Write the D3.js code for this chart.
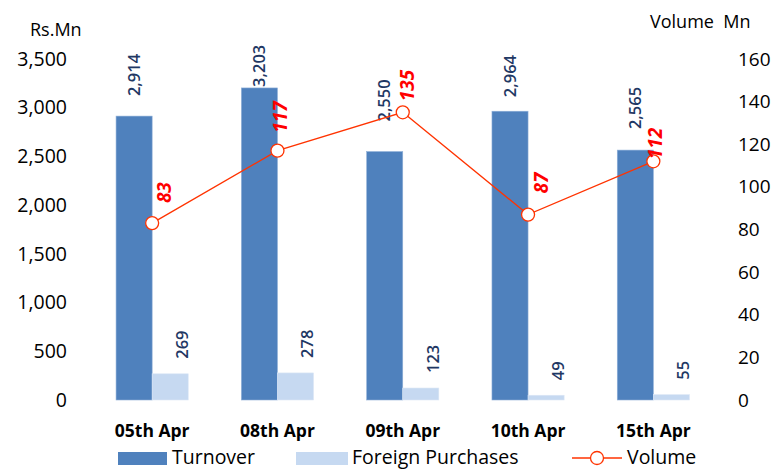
<!DOCTYPE html>
<html>
<head>
<meta charset="utf-8">
<script src="https://cdn.jsdelivr.net/npm/d3@7"></script>
<style>
  body { margin: 0; background: #fff; }
  text { font-family: "Open Sans", Lato, sans-serif; }
</style>
</head>
<body>
<svg id="chart"></svg>
<script>
// data
const dates = ["05th Apr", "08th Apr", "09th Apr", "10th Apr", "15th Apr"];
const turnover = [2914, 3203, 2550, 2964, 2565];
const foreign = [269, 278, 123, 49, 55];
const volume = [83, 117, 135, 87, 112];
const leftTicks = [0, 500, 1000, 1500, 2000, 2500, 3000, 3500];
const rightTicks = [0, 20, 40, 60, 80, 100, 120, 140, 160];

// label nudges (Excel labels were dragged by hand)
const turnoverGap = [20, 1, 30, 14, 21];
const volumeNudge = [[12, 20], [3, 18], [5, 11], [13, 21], [2, 2]];

const width = 774, height = 470;

const svg = d3.select("#chart")
    .attr("width", width)
    .attr("height", height);

const x = d3.scaleBand()
    .domain(dates)
    .range([89.5, 716])
    .paddingInner(0.424)
    .paddingOuter(0.212);

const y = d3.scaleLinear()
    .domain([0, 3500])
    .range([400, 59]);

const yR = d3.scaleLinear()
    .domain([0, 160])
    .range([400, 59]);

const bw = x.bandwidth() / 2;
const fmt = d3.format(",");

const styleTicks = (g, size) => g.selectAll("text")
    .attr("fill", "#000")
    .style("font-size", size)
    .style("font-family", "'Open Sans', sans-serif");

// axes: labels only
svg.append("g")
    .attr("transform", "translate(67,0)")
    .call(d3.axisLeft(y).tickValues(leftTicks).tickSize(0).tickPadding(0).tickFormat(fmt))
    .call(g => g.select(".domain").remove())
    .call(g => styleTicks(g, "19.5px"));

svg.append("g")
    .attr("transform", "translate(738,0)")
    .call(d3.axisRight(yR).tickValues(rightTicks).tickSize(0).tickPadding(0))
    .call(g => g.select(".domain").remove())
    .call(g => styleTicks(g, "19px"));

svg.append("g")
    .attr("transform", "translate(0,400)")
    .call(d3.axisBottom(x).tickSize(0).tickPadding(25))
    .call(g => g.select(".domain").remove())
    .call(g => styleTicks(g, "17.5px").style("font-weight", "bold"));

// axis titles
svg.append("text")
    .attr("x", 30).attr("y", 36)
    .style("font-size", "18px")
    .text("Rs.Mn");

svg.append("text")
    .attr("x", 650).attr("y", 28)
    .style("font-size", "18px")
    .attr("xml:space", "preserve")
    .text("Volume  Mn");

// bars
svg.append("g")
  .selectAll("rect")
  .data(turnover)
  .join("rect")
    .attr("x", (d, i) => x(dates[i]))
    .attr("y", d => y(d))
    .attr("width", bw)
    .attr("height", d => y(0) - y(d))
    .attr("fill", "#4F81BD")
    .attr("stroke", "#8FB0D8")
    .attr("stroke-width", 0.6);

svg.append("g")
  .selectAll("rect")
  .data(foreign)
  .join("rect")
    .attr("x", (d, i) => x(dates[i]) + bw)
    .attr("y", d => y(d))
    .attr("width", bw)
    .attr("height", d => y(0) - y(d))
    .attr("fill", "#C6D9F1")
    .attr("stroke", "#DCE7F5")
    .attr("stroke-width", 0.6);

// bar labels (rotated)
svg.append("g")
  .selectAll("text")
  .data(turnover)
  .join("text")
    .attr("transform", (d, i) => `translate(${x(dates[i]) + bw / 2},${y(d) - turnoverGap[i]}) rotate(-90)`)
    .attr("dy", "0.35em")
    .attr("fill", "#1F3864")
    .style("font-size", "16.5px")
    .style("font-weight", "600")
    .text(d => fmt(d));

svg.append("g")
  .selectAll("text")
  .data(foreign)
  .join("text")
    .attr("transform", (d, i) => `translate(${x(dates[i]) + bw * 1.5 + 12},${y(d) - 15}) rotate(-90)`)
    .attr("dy", "0.35em")
    .attr("fill", "#1F3864")
    .style("font-size", "16.5px")
    .style("font-weight", "600")
    .text(d => fmt(d));

// volume line
const line = d3.line()
    .x((d, i) => x(dates[i]) + bw)
    .y(d => yR(d));

svg.append("path")
    .datum(volume)
    .attr("d", line)
    .attr("fill", "none")
    .attr("stroke", "#FF3300")
    .attr("stroke-width", 1.3);

svg.append("g")
  .selectAll("circle")
  .data(volume)
  .join("circle")
    .attr("cx", (d, i) => x(dates[i]) + bw)
    .attr("cy", d => yR(d))
    .attr("r", 6.5)
    .attr("fill", "#fff")
    .attr("stroke", "#FF3300")
    .attr("stroke-width", 1.3);

svg.append("g")
  .selectAll("text")
  .data(volume)
  .join("text")
    .attr("transform", (d, i) => `translate(${x(dates[i]) + bw + volumeNudge[i][0]},${yR(d) - volumeNudge[i][1]}) rotate(-90)`)
    .attr("dy", "0.35em")
    .attr("fill", "#FF0000")
    .style("font-size", "19px")
    .style("font-weight", "bold")
    .style("font-style", "italic")
    .text(d => d);

// legend
const legend = svg.append("g").style("font-size", "19.5px").attr("fill", "#000");

legend.append("rect").attr("x", 118).attr("y", 452).attr("width", 49).attr("height", 13).attr("fill", "#4F81BD");
legend.append("text").attr("x", 172).attr("y", 464).text("Turnover");

legend.append("rect").attr("x", 296).attr("y", 452).attr("width", 52).attr("height", 13).attr("fill", "#C6D9F1");
legend.append("text").attr("x", 352).attr("y", 464).text("Foreign Purchases");

legend.append("line").attr("x1", 572).attr("x2", 622).attr("y1", 458).attr("y2", 458)
    .attr("stroke", "#FF3300").attr("stroke-width", 1.3);
legend.append("circle").attr("cx", 597).attr("cy", 458).attr("r", 6.5)
    .attr("fill", "#fff").attr("stroke", "#FF3300").attr("stroke-width", 1.3);
legend.append("text").attr("x", 627).attr("y", 464).text("Volume");
</script>
</body>
</html>
